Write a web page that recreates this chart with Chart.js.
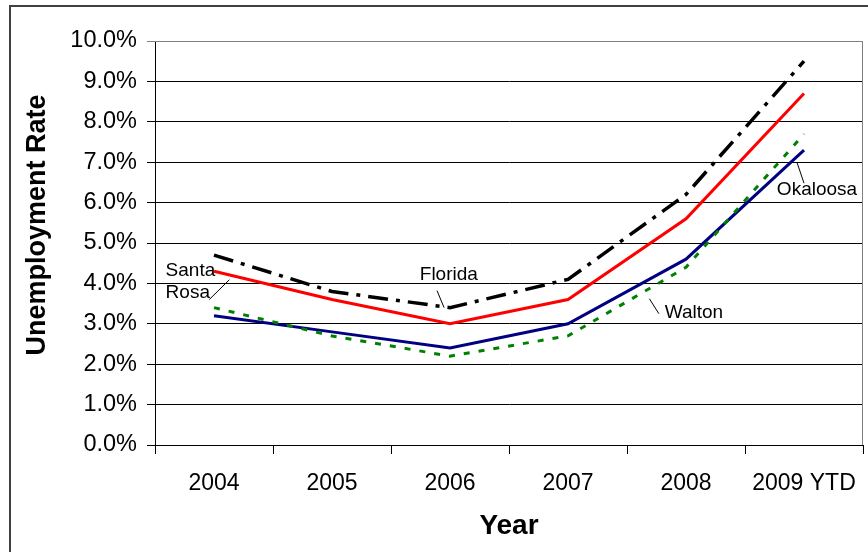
<!DOCTYPE html>
<html>
<head>
<meta charset="utf-8">
<title>Unemployment Rate</title>
<script src="https://cdn.jsdelivr.net/npm/chart.js@4.4.0/dist/chart.umd.min.js"></script>
<style>
  html, body { margin: 0; padding: 0; background: #fff; }
  #wrap { position: relative; width: 868px; height: 552px; overflow: hidden; }
</style>
</head>
<body>
<div id="wrap"><canvas id="rateChart" width="868" height="552"></canvas></div>
<script>
// values (percent)
var years = ['2004', '2005', '2006', '2007', '2008', '2009 YTD'];
var florida = [4.7, 3.8, 3.4, 4.1, 6.2, 9.5];
var santaRosa = [4.3, 3.6, 3.0, 3.6, 5.6, 8.7];
var okaloosa = [3.2, 2.8, 2.4, 3.0, 4.6, 7.3];
var walton = [3.4, 2.7, 2.2, 2.7, 4.4, 7.7];
var yMin = 0;
var yMax = 10;
var yStep = 1;

// in-chart labels, anchored in data space (category index, percent)
var callouts = [
    {text: 'Santa', x: -0.41, y: 4.32, align: 'left'},
    {text: 'Rosa', x: -0.41, y: 3.77, align: 'left'},
    {text: 'Florida', x: 1.99, y: 4.22, align: 'center'},
    {text: 'Walton', x: 3.82, y: 3.28, align: 'left'},
    {text: 'Okaloosa', x: 4.77, y: 6.33, align: 'left'}
];
var leaders = [
    [-0.04, 3.60, 0.13, 4.09],
    [1.89, 3.82, 1.95, 3.40],
    [3.69, 3.62, 3.77, 3.25],
    [4.94, 7.00, 5.00, 6.48]
];

var FONT = '"Liberation Sans", Arial, sans-serif';

var decorations = {
    id: 'decorations',
    afterDraw: function (chart) {
        var ctx = chart.ctx;
        var area = chart.chartArea;
        var xs = chart.scales.x;
        var ys = chart.scales.y;
        ctx.save();

        // plot frame, top + right
        ctx.strokeStyle = '#808080';
        ctx.lineWidth = 1;
        ctx.beginPath();
        ctx.moveTo(area.left, Math.round(area.top) + 0.5);
        ctx.lineTo(Math.round(area.right) - 0.5, Math.round(area.top) + 0.5);
        ctx.lineTo(Math.round(area.right) - 0.5, area.bottom);
        ctx.stroke();

        // outer border of the picture
        ctx.strokeStyle = '#404040';
        ctx.lineWidth = 2;
        ctx.strokeRect(10, 6, 900, 600);

        // y axis title
        ctx.fillStyle = '#000';
        ctx.font = 'bold 27px ' + FONT;
        ctx.textAlign = 'center';
        ctx.textBaseline = 'middle';
        ctx.translate(38, 225);
        ctx.rotate(-Math.PI / 2);
        ctx.fillText('Unemployment Rate', 0, 0);
        ctx.restore();

        ctx.save();
        ctx.fillStyle = '#000';
        ctx.font = '19px ' + FONT;
        ctx.textBaseline = 'middle';
        callouts.forEach(function (c) {
            ctx.textAlign = c.align;
            ctx.fillText(c.text, xs.getPixelForValue(c.x), ys.getPixelForValue(c.y));
        });
        ctx.strokeStyle = '#000';
        ctx.lineWidth = 1;
        leaders.forEach(function (l) {
            ctx.beginPath();
            ctx.moveTo(xs.getPixelForValue(l[0]), ys.getPixelForValue(l[1]));
            ctx.lineTo(xs.getPixelForValue(l[2]), ys.getPixelForValue(l[3]));
            ctx.stroke();
        });
        ctx.restore();
    }
};

var ctx = document.getElementById('rateChart').getContext('2d');
var rateChart = new Chart(ctx, {
    type: 'line',
    data: {
        labels: years,
        datasets: [
            {label: 'Florida', data: florida, borderColor: '#000000', borderWidth: 3.5, borderDash: [20, 8, 4, 8]},
            {label: 'Santa Rosa', data: santaRosa, borderColor: '#ff0000', borderWidth: 3},
            {label: 'Walton', data: walton, borderColor: '#008000', borderWidth: 3, borderDash: [6, 9]},
            {label: 'Okaloosa', data: okaloosa, borderColor: '#000080', borderWidth: 3}
        ]
    },
    options: {
        responsive: false,
        animation: false,
        devicePixelRatio: 1,
        layout: {padding: {left: 0, top: 41, right: 5, bottom: 0}},
        elements: {
            point: {radius: 0, hoverRadius: 0},
            line: {tension: 0, fill: false, borderCapStyle: 'butt', borderJoinStyle: 'miter'}
        },
        plugins: {
            legend: {display: false},
            tooltip: {enabled: false}
        },
        scales: {
            x: {
                type: 'category',
                offset: true,
                grid: {offset: true, drawOnChartArea: false, drawTicks: true, tickLength: 9, color: '#000'},
                border: {display: true, color: '#000', width: 1},
                ticks: {color: '#000', font: {family: FONT, size: 23}, padding: 16, maxRotation: 0, autoSkip: false},
                title: {display: true, text: 'Year', color: '#000', font: {family: FONT, size: 28, weight: 'bold'}, padding: {top: 0, bottom: 9}},
                afterFit: function (s) { s.height = 107; s.paddingRight = 0; }
            },
            y: {
                min: yMin,
                max: yMax,
                grid: {
                    tickLength: 8,
                    color: function (c) { return c.tick && c.tick.value === yMax ? '#808080' : '#000'; }
                },
                border: {display: true, color: '#000', width: 1},
                ticks: {
                    stepSize: yStep,
                    padding: 10,
                    color: '#000',
                    font: {family: FONT, size: 23.5},
                    callback: function (v) { return v.toFixed(1) + '%'; }
                },
                afterFit: function (s) { s.width = 155; }
            }
        }
    },
    plugins: [decorations]
});
</script>
</body>
</html>
